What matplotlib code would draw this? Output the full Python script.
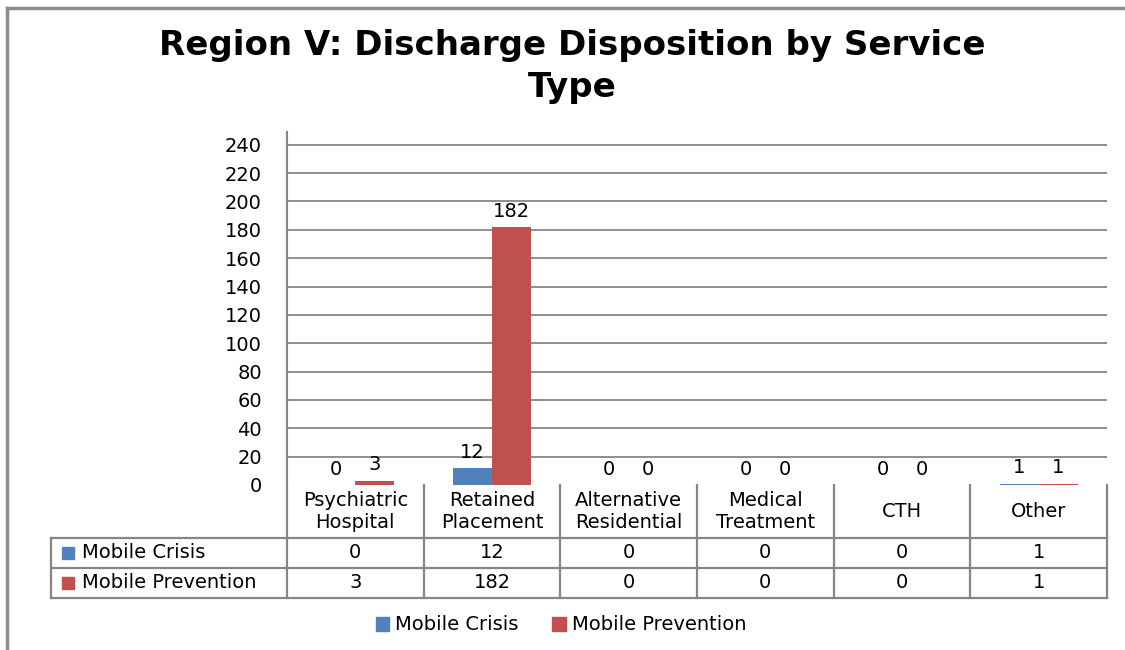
import matplotlib.pyplot as plt
from matplotlib.patches import Rectangle
from matplotlib.lines import Line2D

plt.rcParams['font.family'] = ['DejaVu Sans']

categories = ['Psychiatric\nHospital', 'Retained\nPlacement', 'Alternative\nResidential',
              'Medical\nTreatment', 'CTH', 'Other']
series_names = ['Mobile Crisis', 'Mobile Prevention']
mobile_crisis = [0, 12, 0, 0, 0, 1]
mobile_prevention = [3, 182, 0, 0, 0, 1]
y_ticks = [0, 20, 40, 60, 80, 100, 120, 140, 160, 180, 200, 220, 240]

colors = ['#4F81BD', '#C0504D']
grid_color = '#868686'
W, H = 1125, 650
fs = 14

fig = plt.figure(figsize=(W / 100, H / 100), dpi=100)

# outer chart frame (top and left edges only visible)
fig.add_artist(Line2D([7 / W, 1.0], [1 - 8 / H, 1 - 8 / H], color='#8c8c8c', lw=2.5))
fig.add_artist(Line2D([7 / W, 7 / W], [0, 1 - 8 / H], color='#8c8c8c', lw=2.5))

fig.text(572 / W, 1 - 45 / H, 'Region V: Discharge Disposition by Service', ha='center',
         va='center', fontsize=24.5, fontweight='bold')
fig.text(572 / W, 1 - 87 / H, 'Type', ha='center', va='center', fontsize=24.5, fontweight='bold')

# main plot area
left, right, y0, ytop = 287, 1107, 485, 132
ax = fig.add_axes([left / W, 1 - y0 / H, (right - left) / W, (y0 - ytop) / H])
n = len(categories)
x = list(range(n))
bw = 0.285
all_series = [mobile_crisis, mobile_prevention]
for k, vals in enumerate(all_series):
    offs = (k - 0.5) * bw
    ax.bar([i + offs for i in x], vals, width=bw, color=colors[k], zorder=3)
    for i, v in enumerate(vals):
        ax.text(i + offs, v + 4.5, str(v), ha='center', va='bottom', fontsize=fs)

ax.set_xlim(-0.5, n - 0.5)
ax.set_ylim(0, 249)
ax.set_yticks(y_ticks)
ax.set_yticklabels([str(t) for t in y_ticks], fontsize=fs)
ax.set_xticks([])
ax.tick_params(axis='y', length=0, pad=18)
for t in y_ticks[1:]:
    ax.axhline(t, color=grid_color, lw=1.3, zorder=1)
for s in ['top', 'right', 'bottom']:
    ax.spines[s].set_visible(False)
ax.spines['left'].set_color(grid_color)
ax.spines['left'].set_linewidth(1.5)

# data table below plot
tleft, tbot = 51, 598
label_w = (left - tleft) / ((right - left) / n)
header_h = 53 / 30
tax = fig.add_axes([tleft / W, 1 - tbot / H, (right - tleft) / W, (tbot - y0) / H])
tax.set_xlim(-0.5 - label_w, n - 0.5)
tax.set_ylim(header_h + 2, 0)
tax.axis('off')
lk = dict(color=grid_color, lw=1.6, clip_on=False)
tax.plot([-0.5 - label_w, n - 0.5], [header_h, header_h], **lk)
tax.plot([-0.5 - label_w, n - 0.5], [header_h + 1, header_h + 1], **lk)
tax.plot([-0.5 - label_w, n - 0.5], [header_h + 2, header_h + 2], **lk)
tax.plot([-0.5 - label_w, -0.5 - label_w], [header_h, header_h + 2], **lk)
for i in range(n + 1):
    tax.plot([i - 0.5, i - 0.5], [0, header_h + 2], **lk)
for i, c in enumerate(categories):
    tax.text(i, header_h / 2, c, ha='center', va='center', fontsize=fs, linespacing=1.2)
for k, vals in enumerate(all_series):
    yc = header_h + k + 0.5
    tax.add_patch(Rectangle((-0.5 - label_w + 0.08, yc - 0.2), 0.09, 0.4,
                            color=colors[k], clip_on=False))
    tax.text(-0.5 - label_w + 0.23, yc, series_names[k], ha='left', va='center', fontsize=fs)
    for i, v in enumerate(vals):
        tax.text(i, yc, str(v), ha='center', va='center', fontsize=fs)

# legend at bottom
handles = [Rectangle((0, 0), 1, 1, color=c) for c in colors]
fig.legend(handles, series_names, loc='center', bbox_to_anchor=(561 / W, 1 - 625 / H),
           ncol=2, frameon=False, fontsize=fs, handlelength=0.7, handleheight=0.7,
           columnspacing=1.75, handletextpad=0.3)

fig.savefig('out.png', dpi=100)
